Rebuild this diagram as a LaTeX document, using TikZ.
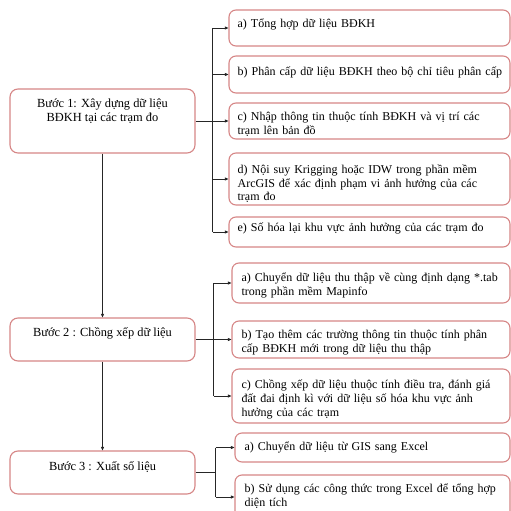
\documentclass[tikz,border=0pt]{standalone}
\usepackage{fontspec}
\setmainfont{Liberation Serif}
\usetikzlibrary{positioning,calc,arrows.meta}
\definecolor{boxred}{RGB}{214,134,134}

\begin{document}
\begin{tikzpicture}[x=1pt,y=-1pt,
		stepbox/.style={draw=boxred, line width=1.1pt, rounded corners=8pt, fill=white, minimum width=185pt},
		subbox/.style={draw=boxred, line width=1.1pt, rounded corners=7pt, fill=white},
		steptext/.style={font=\fontsize{12.4}{14.5}\selectfont, align=center, anchor=north},
		subtext/.style={font=\fontsize{12}{13.8}\selectfont, align=left, anchor=north west, text width=268pt},
		link/.style={draw=black!85, line width=0.8pt},
		arrow/.style={link, -{Triangle[length=3.5pt,width=3pt]}},
		every node/.style={inner sep=0pt}
		]
		\useasboundingbox (0,0) rectangle (511,511);
		
		% -------------------------------------------------
		% Steps
		% -------------------------------------------------
		\node[stepbox, minimum height=64pt] (s1) at (102.5,121) {};
		\node[steptext] (t1) at ($(s1.north)+(0,10)$) {Bước 1: Xây dựng dữ liệu\\BĐKH tại các trạm đo};
		
		\node[stepbox, minimum height=43pt] (s2) at (102.5,339.5) {};
		\node[steptext] (t2) at ($(s2.north)+(0,10)$) {Bước 2 : Chồng xếp dữ liệu};
		
		\node[stepbox, minimum height=43pt] (s3) at (102.5,472.5) {};
		\node[steptext] (t3) at ($(s3.north)+(0,11)$) {Bước 3 : Xuất số liệu};
		
		% -------------------------------------------------
		% Step 1: sub-steps
		% -------------------------------------------------
		\node[subbox, minimum width=281pt, minimum height=36pt] (s1a) at (369.5,28) {};
		\node[subtext] (t1a) at ($(s1a.north west)+(9,9)$) {a) Tổng hợp dữ liệu BĐKH};
		
		\node[subbox, minimum width=281pt, minimum height=37pt] (s1b) at (369.5,74.5) {};
		\node[subtext] (t1b) at ($(s1b.north west)+(9,11.5)$) {b) Phân cấp dữ liệu BĐKH theo bộ chỉ tiêu phân cấp};
		
		\node[subbox, minimum width=281pt, minimum height=36pt] (s1c) at (369.5,121) {};
		\node[subtext] (t1c) at ($(s1c.north west)+(9,9.5)$) {c) Nhập thông tin thuộc tính BĐKH và vị trí các\\trạm lên bản đồ};
		
		\node[subbox, minimum width=281pt, minimum height=52pt] (s1d) at (369.5,179) {};
		\node[subtext] (t1d) at ($(s1d.north west)+(9,12)$) {d) Nội suy Krigging hoặc IDW trong phần mềm\\ArcGIS để xác định phạm vi ảnh hưởng của các\\trạm đo};
		
		\node[subbox, minimum width=281pt, minimum height=30pt] (s1e) at (369.5,232) {};
		\node[subtext] (t1e) at ($(s1e.north west)+(9,6.5)$) {e) Số hóa lại khu vực ảnh hưởng của các trạm đo};
		
		% -------------------------------------------------
		% Step 2: sub-steps
		% -------------------------------------------------
		\node[subbox, minimum width=278pt, minimum height=40pt] (s2a) at (371,283) {};
		\node[subtext] (t2a) at ($(s2a.north west)+(10,10.5)$) {a) Chuyển dữ liệu thu thập về cùng định dạng *.tab\\trong phần mềm Mapinfo};
		
		\node[subbox, minimum width=278pt, minimum height=37pt] (s2b) at (371,339.5) {};
		\node[subtext] (t2b) at ($(s2b.north west)+(10,9.5)$) {b) Tạo thêm các trường thông tin thuộc tính phân\\cấp BĐKH mới trong dữ liệu thu thập};
		
		\node[subbox, minimum width=278pt, minimum height=54pt] (s2c) at (371,396) {};
		\node[subtext] (t2c) at ($(s2c.north west)+(10,11.5)$) {c) Chồng xếp dữ liệu thuộc tính điều tra, đánh giá\\đất đai định kì với dữ liệu số hóa khu vực ảnh\\hưởng của các trạm};
		
		% -------------------------------------------------
		% Step 3: sub-steps
		% -------------------------------------------------
		\node[subbox, minimum width=275pt, minimum height=29pt] (s3a) at (372.5,447.5) {};
		\node[subtext] (t3a) at ($(s3a.north west)+(10,9.5)$) {a) Chuyển dữ liệu từ GIS sang Excel};
		
		\node[subbox, minimum width=275pt, minimum height=44pt] (s3b) at (372.5,497) {};
		\node[subtext] (t3b) at ($(s3b.north west)+(10,9.5)$) {b) Sử dụng các công thức trong Excel để tổng hợp\\diện tích};
		
		% -------------------------------------------------
		% Connectors
		% -------------------------------------------------
		\draw[arrow] (s1.south) -- (s2.north);
		\draw[arrow] (s2.south) -- (s3.north);
		
		\draw[link] (s1.east) -- ++(17,0) coordinate (j1);
		\draw[link] (j1 |- s1a.west) -- (j1 |- s1e.west);
		\foreach \n in {s1a,s1b,s1c,s1d,s1e}
		\draw[arrow] (j1 |- \n.west) -- (\n.west);
		
		\draw[link] (s2.east) -- ++(18,0) coordinate (j2);
		\draw[link] (j2 |- s2a.west) -- (j2 |- s2c.west);
		\foreach \n in {s2a,s2b,s2c}
		\draw[arrow] (j2 |- \n.west) -- (\n.west);
		
		\draw[link] (s3.east) -- ++(20,0) coordinate (j3);
		\draw[link] (j3 |- s3a.west) -- (j3 |- s3b.west);
		\foreach \n in {s3a,s3b}
		\draw[arrow] (j3 |- \n.west) -- (\n.west);
		
	\end{tikzpicture}
\end{document}
